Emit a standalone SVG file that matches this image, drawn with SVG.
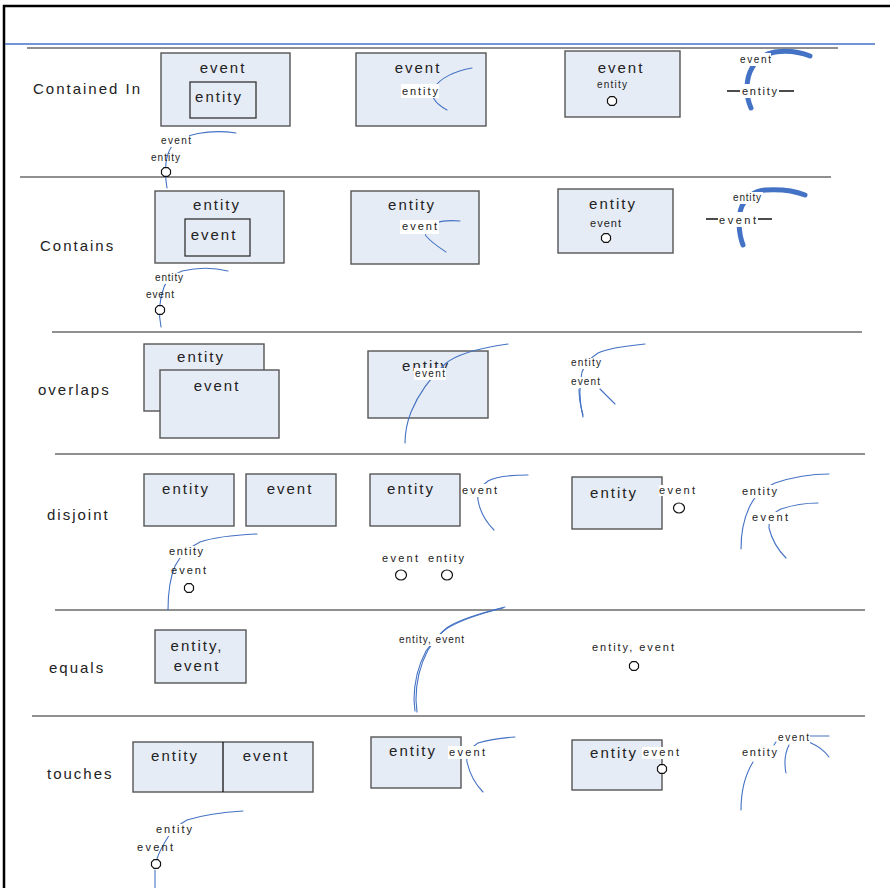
<svg xmlns="http://www.w3.org/2000/svg" xmlns:xlink="http://www.w3.org/1999/xlink" width="890" height="888" viewBox="0 0 890 888">
  <style>
    .frame { fill: none; stroke: #000; stroke-width: 2.5; }
    .rule { stroke: #4472c4; stroke-width: 1.4; }
    .sep { stroke: #222; stroke-width: 1.1; }
    .box { fill: #e6ecf6; stroke: #555; stroke-width: 1.4; }
    .inner { fill: #e6ecf6; stroke: #333; stroke-width: 1.3; }
    .geo { fill: none; stroke: #4472c4; stroke-width: 1.1; stroke-linecap: round; }
    .thick { fill: none; stroke: #4472c4; stroke-width: 5; stroke-linecap: round; }
    .bg { fill: #fff; }
    .pt { fill: #fff; stroke: #111; stroke-width: 1.2; }
    .blk { stroke: #111; stroke-width: 1.3; }
    text { font-family: "Liberation Sans", Arial, sans-serif; fill: #222; }
    .row { font-size: 15px; letter-spacing: 2px; }
    .big { font-size: 15px; letter-spacing: 2px; text-anchor: middle; }
    .sm { font-size: 11px; }
    .xs { font-size: 10px; }
  </style>
  <defs>
    <path id="pt" class="pt" d="M-2,-4.3 L2,-4.3 L4.5,-1.8 L4.5,1.8 L2,4.3 L-2,4.3 L-4.5,1.8 L-4.5,-1.8 Z"/>
  </defs>

  <!-- page frame and header rule -->
  <g id="frame">
    <path class="frame" d="M4,888 L4,6 L890,6"/>
    <line class="rule" x1="5" y1="44" x2="875" y2="44"/>
  </g>

  <!-- row separators -->
  <g id="separators">
    <line class="sep" x1="27" y1="48" x2="838" y2="48"/>
    <line class="sep" x1="20" y1="177" x2="831" y2="177"/>
    <line class="sep" x1="52" y1="332" x2="862" y2="332"/>
    <line class="sep" x1="55" y1="454" x2="865" y2="454"/>
    <line class="sep" x1="55" y1="610" x2="865" y2="610"/>
    <line class="sep" x1="32" y1="716" x2="865" y2="716"/>
  </g>

  <!-- row titles -->
  <g id="titles">
    <text class="row" x="33" y="94">Contained In</text>
    <text class="row" x="40" y="251">Contains</text>
    <text class="row" x="38" y="395">overlaps</text>
    <text class="row" x="47" y="520">disjoint</text>
    <text class="row" x="49" y="673">equals</text>
    <text class="row" x="47" y="779">touches</text>
  </g>

  <!-- ===== Contained In ===== -->
  <g id="ci-poly-poly">
    <rect class="box" x="161" y="53" width="129" height="73"/>
    <text class="big" x="223" y="73">event</text>
    <rect class="inner" x="190" y="82" width="66" height="36"/>
    <text class="big" x="219" y="102">entity</text>
  </g>
  <g id="ci-line-poly">
    <rect class="box" x="356" y="53" width="130" height="73"/>
    <text class="big" x="418" y="73">event</text>
    <path class="geo" d="M472,68 C455,71 440,78 434,88 C429,97 438,105 447,110"/>
    <rect class="bg" x="401" y="84" width="38" height="14"/>
    <text class="sm" x="402" y="95" textLength="36" lengthAdjust="spacing">entity</text>
  </g>
  <g id="ci-point-poly">
    <rect class="box" x="565" y="51" width="115" height="66"/>
    <text class="big" x="621" y="73">event</text>
    <text class="xs" x="597" y="88" textLength="30" lengthAdjust="spacing">entity</text>
    <use xlink:href="#pt" x="612" y="101"/>
  </g>
  <g id="ci-line-line">
    <path class="thick" d="M751,108 C745,95 746,78 752,68 C757,58 765,54 775,52 C788,50 800,52 810,56"/>
    <rect class="bg" x="739" y="53" width="32" height="13"/>
    <text class="xs" x="740" y="63" textLength="31" lengthAdjust="spacing">event</text>
    <line class="blk" x1="727" y1="91" x2="794" y2="91"/>
    <rect class="bg" x="740" y="84" width="39" height="14"/>
    <text class="sm" x="742" y="95" textLength="35" lengthAdjust="spacing">entity</text>
  </g>
  <g id="ci-point-line">
    <path class="geo" d="M236,133 C210,129 182,134 172,146 C165,156 164,170 167,188"/>
    <rect class="bg" x="160" y="134" width="29" height="13"/>
    <text class="xs" x="161" y="144" textLength="30" lengthAdjust="spacing">event</text>
    <text class="xs" x="151" y="161" textLength="29" lengthAdjust="spacing">entity</text>
    <use xlink:href="#pt" x="166" y="172"/>
  </g>

  <!-- ===== Contains ===== -->
  <g id="co-poly-poly">
    <rect class="box" x="155" y="191" width="129" height="72"/>
    <text class="big" x="217" y="210">entity</text>
    <rect class="inner" x="185" y="219" width="65" height="37"/>
    <text class="big" x="214" y="240">event</text>
  </g>
  <g id="co-poly-line">
    <rect class="box" x="351" y="191" width="128" height="73"/>
    <text class="big" x="412" y="210">entity</text>
    <path class="geo" d="M460,221 C450,220 440,221 432,224 C425,228 424,233 426,236 C432,243 440,248 446,252"/>
    <rect class="bg" x="400" y="220" width="39" height="14"/>
    <text class="sm" x="402" y="230" textLength="35" lengthAdjust="spacing">event</text>
  </g>
  <g id="co-poly-point">
    <rect class="box" x="558" y="189" width="115" height="64"/>
    <text class="big" x="613" y="209">entity</text>
    <text class="sm" x="590" y="227" textLength="31" lengthAdjust="spacing">event</text>
    <use xlink:href="#pt" x="606" y="238"/>
  </g>
  <g id="co-line-line">
    <path class="thick" d="M743,245 C738,232 738,215 742,206 C748,195 755,191 765,190 C780,189 795,191 805,195"/>
    <rect class="bg" x="731" y="192" width="32" height="12"/>
    <text class="xs" x="733" y="201" textLength="28" lengthAdjust="spacing">entity</text>
    <line class="blk" x1="706" y1="219" x2="772" y2="219"/>
    <rect class="bg" x="718" y="212" width="40" height="15"/>
    <text class="sm" x="719" y="224" textLength="37" lengthAdjust="spacing">event</text>
  </g>
  <g id="co-line-point">
    <path class="geo" d="M228,271 C212,267 195,268 182,271 C172,275 166,281 164,287 C160,298 158,312 161,327"/>
    <rect class="bg" x="155" y="273" width="29" height="11"/>
    <text class="xs" x="155" y="281" textLength="28" lengthAdjust="spacing">entity</text>
    <text class="xs" x="146" y="298" textLength="28" lengthAdjust="spacing">event</text>
    <use xlink:href="#pt" x="160" y="310"/>
  </g>

  <!-- ===== overlaps ===== -->
  <g id="ov-poly-poly">
    <rect class="box" x="144" y="344" width="120" height="67"/>
    <text class="big" x="201" y="362">entity</text>
    <rect class="box" x="160" y="370" width="119" height="68"/>
    <text class="big" x="217" y="391">event</text>
  </g>
  <g id="ov-poly-line">
    <rect class="box" x="368" y="351" width="120" height="67"/>
    <text class="big" x="426" y="371">entity</text>
    <path class="geo" d="M508,344 C480,348 455,355 445,364 C430,378 418,395 411,412 C406,425 405,435 405,443"/>
    <rect class="bg" x="414" y="368" width="32" height="12"/>
    <text class="xs" x="415" y="377" textLength="30" lengthAdjust="spacing">event</text>
  </g>
  <g id="ov-line-line">
    <path class="geo" d="M645,344 C625,346 608,348 598,353 C590,358 584,366 582,372 C579,385 579,400 583,417"/>
    <path class="geo" d="M579,389 C579,398 581,408 583,415"/>
    <path class="geo" d="M600,389 C605,394 610,399 615,404"/>
    <rect class="bg" x="570" y="358" width="32" height="11"/>
    <text class="xs" x="571" y="366" textLength="30" lengthAdjust="spacing">entity</text>
    <rect class="bg" x="570" y="377" width="31" height="11"/>
    <text class="xs" x="571" y="385" textLength="29" lengthAdjust="spacing">event</text>
  </g>

  <!-- ===== disjoint ===== -->
  <g id="dj-poly-poly">
    <rect class="box" x="144" y="474" width="90" height="52"/>
    <text class="big" x="186" y="494">entity</text>
    <rect class="box" x="246" y="474" width="90" height="52"/>
    <text class="big" x="290" y="494">event</text>
  </g>
  <g id="dj-poly-line">
    <rect class="box" x="370" y="474" width="90" height="52"/>
    <text class="big" x="411" y="494">entity</text>
    <path class="geo" d="M528,475 C510,475 495,477 488,481 C480,487 477,494 478,500 C480,512 486,522 494,530"/>
    <rect class="bg" x="461" y="484" width="37" height="13"/>
    <text class="sm" x="462" y="494" textLength="35" lengthAdjust="spacing">event</text>
  </g>
  <g id="dj-point-point">
    <text class="sm" x="382" y="562" textLength="36" lengthAdjust="spacing">event</text>
    <text class="sm" x="428" y="562" textLength="36" lengthAdjust="spacing">entity</text>
    <ellipse class="pt" cx="401" cy="575" rx="5.5" ry="5"/>
    <ellipse class="pt" cx="447" cy="575" rx="5.5" ry="5"/>
  </g>
  <g id="dj-line-point">
    <path class="geo" d="M257,534 C235,535 212,538 200,542 C188,548 180,556 175,566 C170,578 168,595 168,610"/>
    <rect class="bg" x="168" y="546" width="36" height="12"/>
    <text class="sm" x="169" y="555" textLength="34" lengthAdjust="spacing">entity</text>
    <text class="sm" x="171" y="574" textLength="35" lengthAdjust="spacing">event</text>
    <use xlink:href="#pt" x="189" y="588"/>
  </g>
  <g id="dj-poly-point">
    <rect class="box" x="572" y="477" width="90" height="52"/>
    <text class="big" x="614" y="498">entity</text>
    <rect class="bg" x="659" y="485" width="37" height="11"/>
    <text class="sm" x="659" y="494" textLength="36" lengthAdjust="spacing">event</text>
    <ellipse class="pt" cx="679" cy="508" rx="5.5" ry="5"/>
  </g>
  <g id="dj-line-line">
    <path class="geo" d="M829,474 C808,474 790,478 775,483 C762,489 755,496 751,504 C745,515 741,530 741,549"/>
    <path class="geo" d="M818,503 C805,503 790,506 781,509 C772,513 769,520 769,528 C772,540 778,550 786,558"/>
    <rect class="bg" x="741" y="485" width="37" height="13"/>
    <text class="sm" x="742" y="495" textLength="35" lengthAdjust="spacing">entity</text>
    <rect class="bg" x="751" y="512" width="38" height="12"/>
    <text class="sm" x="752" y="521" textLength="36" lengthAdjust="spacing">event</text>
  </g>

  <!-- ===== equals ===== -->
  <g id="eq-poly">
    <rect class="box" x="155" y="630" width="91" height="53"/>
    <text class="big" x="197" y="651">entity,</text>
    <text class="big" x="197" y="671">event</text>
  </g>
  <g id="eq-line">
    <path class="geo" d="M505,607 C485,612 462,618 448,627 C440,633 433,642 428,650 C420,665 416,682 416,700 L417,712"/>
    <path class="geo" d="M503,608 C483,613 460,620 446,629 C438,635 432,643 426,651 C418,666 414,683 414,700 L415,711"/>
    <rect class="bg" x="397" y="634" width="69" height="12"/>
    <text class="xs" x="399" y="643" textLength="65" lengthAdjust="spacing">entity, event</text>
  </g>
  <g id="eq-point">
    <text class="sm" x="592" y="651" textLength="82" lengthAdjust="spacing">entity, event</text>
    <use xlink:href="#pt" x="634" y="666"/>
  </g>

  <!-- ===== touches ===== -->
  <g id="tc-poly-poly">
    <rect class="box" x="133" y="742" width="180" height="50"/>
    <line class="blk" x1="223" y1="742" x2="223" y2="792"/>
    <text class="big" x="175" y="761">entity</text>
    <text class="big" x="266" y="761">event</text>
  </g>
  <g id="tc-poly-line">
    <rect class="box" x="371" y="737" width="90" height="51"/>
    <text class="big" x="413" y="756">entity</text>
    <path class="geo" d="M515,737 C500,738 488,740 478,743 C470,748 466,755 467,762 C470,775 476,785 483,792"/>
    <rect class="bg" x="448" y="746" width="38" height="13"/>
    <text class="sm" x="449" y="756" textLength="36" lengthAdjust="spacing">event</text>
  </g>
  <g id="tc-poly-point">
    <rect class="box" x="572" y="740" width="90" height="50"/>
    <text class="big" x="614" y="758">entity</text>
    <rect class="bg" x="642" y="747" width="38" height="12"/>
    <text class="sm" x="643" y="756" textLength="36" lengthAdjust="spacing">event</text>
    <use xlink:href="#pt" x="662" y="769"/>
  </g>
  <g id="tc-line-line">
    <path class="geo" d="M829,736 L809,736"/>
    <path class="geo" d="M809,742 C818,746 825,751 829,757"/>
    <path class="geo" d="M789,745 C785,753 784,763 786,773"/>
    <path class="geo" d="M776,742 L774,745"/>
    <path class="geo" d="M753,762 C745,775 741,790 741,810"/>
    <rect class="bg" x="741" y="747" width="37" height="12"/>
    <text class="sm" x="742" y="756" textLength="35" lengthAdjust="spacing">entity</text>
    <rect class="bg" x="777" y="732" width="33" height="11"/>
    <text class="xs" x="778" y="741" textLength="31" lengthAdjust="spacing">event</text>
  </g>
  <g id="tc-line-point">
    <path class="geo" d="M243,811 C225,812 203,815 187,820 C178,825 172,830 168,837 C163,845 159,852 157,859"/>
    <path class="geo" d="M155,870 L155,888"/>
    <rect class="bg" x="155" y="824" width="39" height="12"/>
    <text class="sm" x="156" y="833" textLength="36" lengthAdjust="spacing">entity</text>
    <text class="sm" x="137" y="851" textLength="36" lengthAdjust="spacing">event</text>
    <use xlink:href="#pt" x="156" y="864"/>
  </g>
</svg>
